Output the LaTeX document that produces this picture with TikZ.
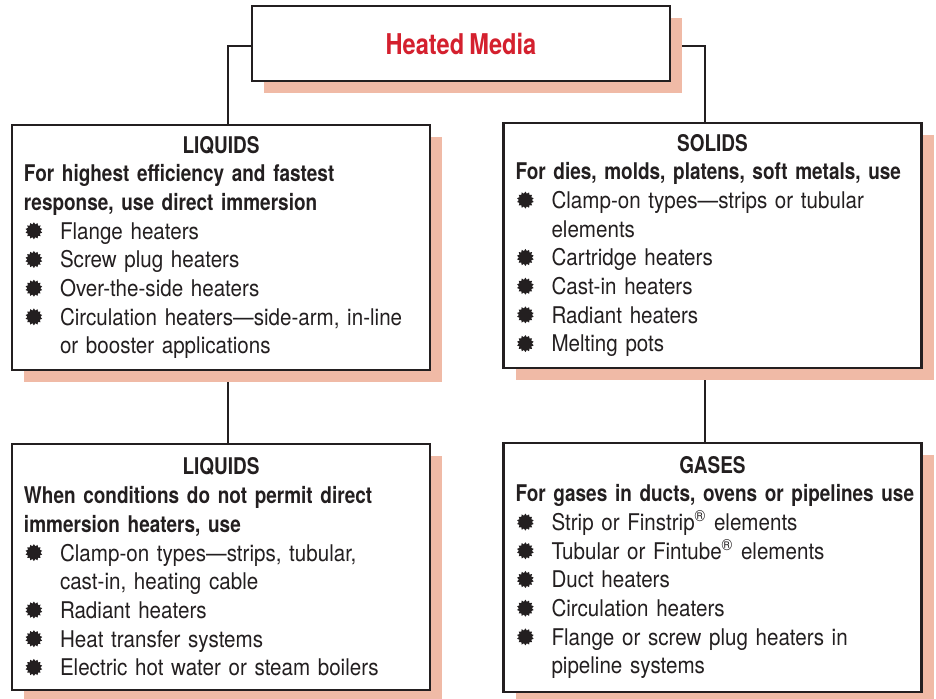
\documentclass[tikz,border=0pt]{standalone}
\usepackage{fontspec}
\setmainfont{TeX Gyre Heros}[FakeStretch=0.895,BoldFeatures={FakeStretch=0.825,WordSpace=0.8}]
\usetikzlibrary{shapes.geometric,shadows,backgrounds}
\setlength{\parindent}{0pt}
\newcommand{\unitpx}{0.5pt}
\definecolor{mediared}{RGB}{212,32,46}
\definecolor{shadowpink}{RGB}{240,186,166}
\definecolor{inkgray}{RGB}{35,31,32}
% bullet and list helpers
\newcommand{\burst}{\tikz[baseline=-4.2pt]\node[star,star points=14,star point ratio=1.3,fill=inkgray,inner sep=0pt,minimum size=8.5pt]{};}
\newcommand{\itm}{\makebox[18pt][l]{\hspace{0.8pt}\burst}}
\newcommand{\cnt}{\hspace*{18pt}}

\begin{document}
\begin{tikzpicture}[x=\unitpx,y=-\unitpx]
\tikzstyle{box}=[draw=inkgray,
			line width=1.4pt,
			fill=white,
			text=inkgray,
			text width=197pt,
			align=left,
			inner xsep=6pt,
			inner ysep=0pt,
			font=\fontsize{11.5}{14.35}\selectfont,
			drop shadow={shadow xshift=6pt,shadow yshift=-6pt,fill=shadowpink,opacity=1}
			]
\tikzstyle{topbox}=[box,text width=,minimum width=209pt,minimum height=37.5pt,
			text=mediared,align=center,font=\bfseries\fontsize{14.3}{16}\selectfont]
\tikzstyle{link}=[draw=inkgray,line width=1.4pt]

\useasboundingbox (0,0) rectangle (936,698);

\node[topbox] (media) at (461,43.5) {Heated Media};

\node[box,minimum height=122.5pt] (liqA) at (221,247.5) {%
\centerline{\textbf{LIQUIDS}}
\mbox{\textbf{For highest efficiency and fastest}}\\
\mbox{\textbf{response, use direct immersion}}\\
\itm Flange heaters\\
\itm Screw plug heaters\\
\itm Over-the-side heaters\\
\itm \mbox{Circulation heaters—side-arm, in-line}\\
\cnt or booster applications};

\node[box,minimum height=122.5pt] (solid) at (712.5,245.5) {%
\centerline{\textbf{SOLIDS}}
\mbox{\textbf{For dies, molds, platens, soft metals, use}}\\
\itm \mbox{Clamp-on types—strips or tubular}\\
\cnt elements\\
\itm Cartridge heaters\\
\itm Cast-in heaters\\
\itm Radiant heaters\\
\itm Melting pots};

\node[box,minimum height=123pt] (liqB) at (221,567) {%
\centerline{\textbf{LIQUIDS}}
\mbox{\textbf{When conditions do not permit direct}}\\
\mbox{\textbf{immersion heaters, use}}\\
\itm \mbox{Clamp-on types—strips, tubular,}\\
\cnt cast-in, heating cable\\
\itm Radiant heaters\\
\itm Heat transfer systems\\
\itm \mbox{Electric hot water or steam boilers}};

\node[box,minimum height=124.5pt] (gas) at (712.5,567.5) {%
\centerline{\textbf{GASES}}
\mbox{\textbf{For gases in ducts, ovens or pipelines use}}\\
\itm Strip or Finstrip\textsuperscript{®} elements\\
\itm Tubular or Fintube\textsuperscript{®} elements\\
\itm Duct heaters\\
\itm Circulation heaters\\
\itm \mbox{Flange or screw plug heaters in}\\
\cnt pipeline systems};

% connectors behind the boxes
\begin{pgfonlayer}{background}
\draw[link] ([yshift=-1.25pt]media.west) -| ([xshift=3.5pt]liqA.north);
\draw[link] ([yshift=-1.25pt]media.east) -| ([xshift=-3.75pt]solid.north);
\draw[link] ([xshift=3.5pt]liqA.south) -- ([xshift=3.5pt]liqB.north);
\draw[link] ([xshift=-3.75pt]solid.south) -- ([xshift=-3.75pt]gas.north);
\end{pgfonlayer}

\end{tikzpicture}
\end{document}
